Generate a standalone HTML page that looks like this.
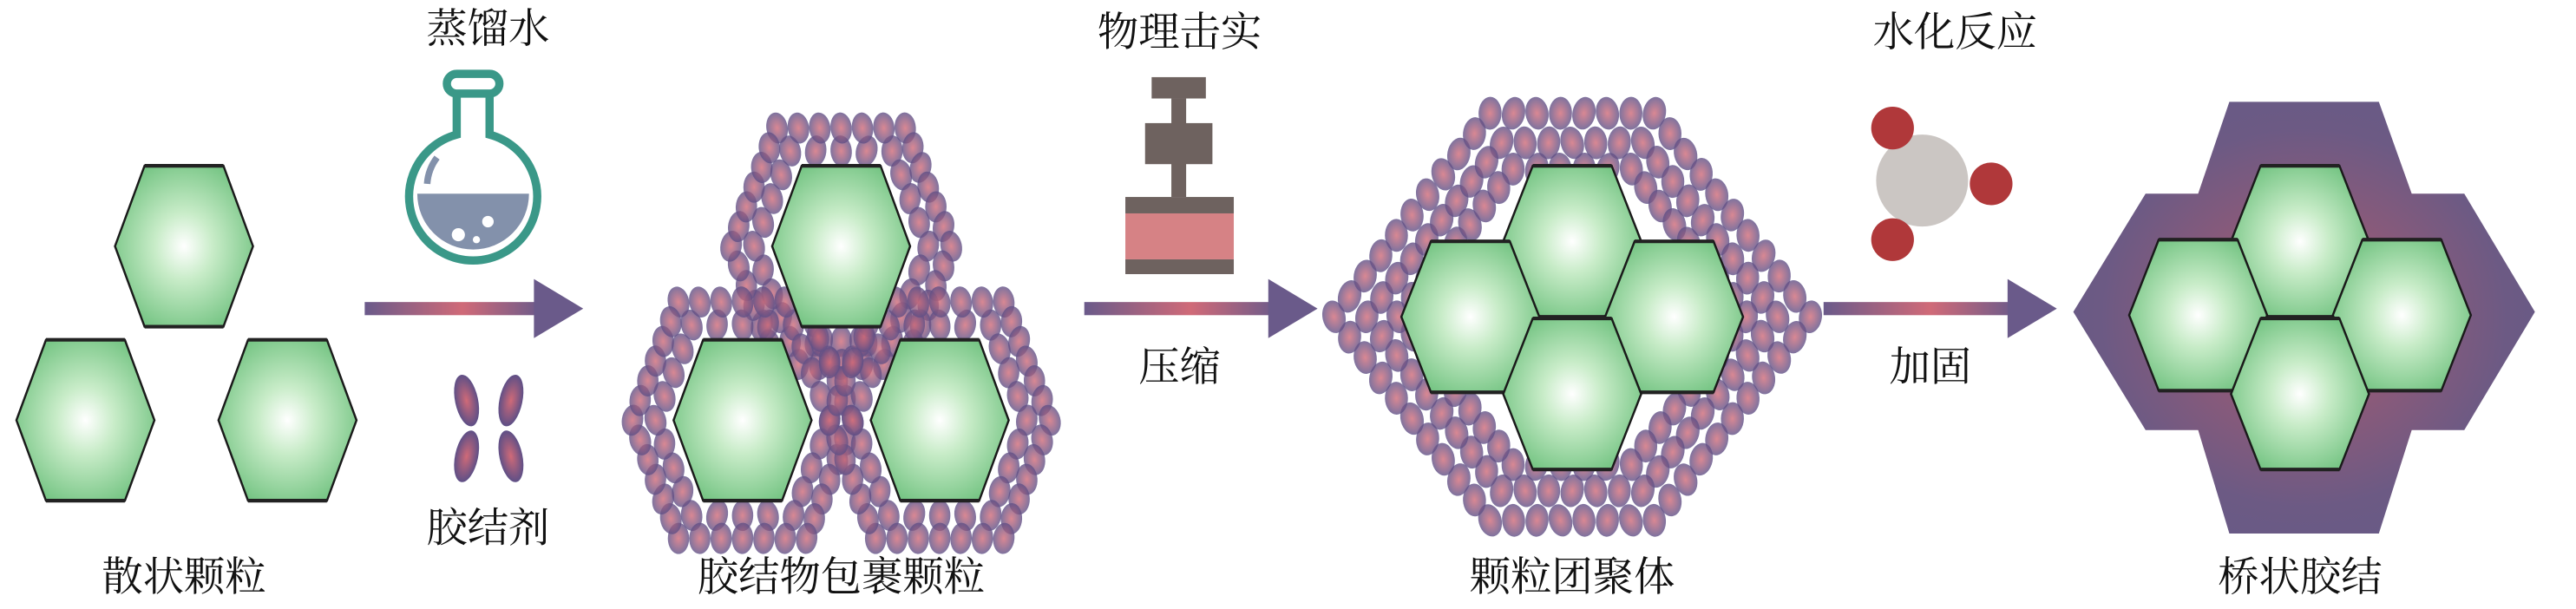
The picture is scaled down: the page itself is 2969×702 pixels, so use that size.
<!DOCTYPE html>
<html><head><meta charset="utf-8"><style>
html,body{margin:0;padding:0;background:#fff;}
svg{display:block;}
text{font-family:"Liberation Serif","Noto Serif CJK SC",serif;font-size:25px;fill:#111;text-anchor:middle;}
</style></head><body>
<svg id="s" width="2969" height="702" viewBox="0 0 1568 371" preserveAspectRatio="none" xmlns="http://www.w3.org/2000/svg">
<defs>
<radialGradient id="hg" cx="50%" cy="50%" r="60%"><stop offset="0" stop-color="#ffffff"/><stop offset="0.35" stop-color="#c8ecc8"/><stop offset="1" stop-color="#6cc07c"/></radialGradient>
<radialGradient id="eg" cx="50%" cy="50%" r="50%"><stop offset="0" stop-color="#d06a78"/><stop offset="1" stop-color="#5e4f86"/></radialGradient>
<radialGradient id="pg" cx="50%" cy="50%" r="55%"><stop offset="0.3" stop-color="#955a76"/><stop offset="0.8" stop-color="#6c5a84"/><stop offset="1" stop-color="#685a86"/></radialGradient>
<linearGradient id="ag" x1="0" x2="1"><stop offset="0" stop-color="#6a5a8a"/><stop offset="0.55" stop-color="#d06a78"/><stop offset="1" stop-color="#6a5a8a"/></linearGradient>
<clipPath id="fc"><circle cx="288" cy="118" r="34"/></clipPath>
<pattern id="dots" width="7" height="7" patternUnits="userSpaceOnUse"><rect width="7" height="7" fill="#6a4a7a"/><circle cx="3.5" cy="3.5" r="3" fill="#a0506a"/></pattern>
</defs>
<g id="g4"><polygon points="1357,62 1448,62 1468,118 1500,118 1543,190 1500,262 1468,262 1448,325 1357,325 1338,262 1306,262 1262,190 1306,118 1338,118" fill="url(#pg)"/></g>
<g id="clouds"></g>
<g id="hexes"></g>
<g>
<rect x="222" y="184" width="108" height="8" fill="url(#ag)"/><polygon points="325,170 355,188 325,206" fill="#6a5a8a"/>
<rect x="660" y="184" width="118" height="8" fill="url(#ag)"/><polygon points="772,170 802,188 772,206" fill="#6a5a8a"/>
<rect x="1110" y="184" width="118" height="8" fill="url(#ag)"/><polygon points="1222,170 1252,188 1222,206" fill="#6a5a8a"/>
</g>
<g>
<g clip-path="url(#fc)"><rect x="250" y="118" width="80" height="40" fill="#8391ab"/></g>
<circle cx="297" cy="135" r="3.5" fill="#fff"/><circle cx="279" cy="143" r="4" fill="#fff"/><circle cx="290" cy="146" r="2.2" fill="#fff"/>
<path d="M278,58 L278,82 A39,39 0 1 0 298,82 L298,58" fill="none" stroke="#3a9888" stroke-width="5"/>
<rect x="272" y="45" width="32" height="12" rx="6" fill="none" stroke="#3a9888" stroke-width="5"/>
<path d="M260,112 A30,30 0 0 1 266,96" fill="none" stroke="#8391ab" stroke-width="4"/>
</g>
<g fill="url(#eg)"><ellipse cx="284" cy="244" rx="7" ry="16" transform="rotate(-12 284 244)"/><ellipse cx="311" cy="244" rx="7" ry="16" transform="rotate(12 311 244)"/><ellipse cx="284" cy="278" rx="7" ry="16" transform="rotate(12 284 278)"/><ellipse cx="311" cy="278" rx="7" ry="16" transform="rotate(-12 311 278)"/></g>
<g fill="#6e625f"><rect x="701" y="47" width="33" height="13"/><rect x="713" y="60" width="9" height="60"/><rect x="697" y="75" width="41" height="25"/><rect x="685" y="120" width="66" height="10"/><rect x="685" y="158" width="66" height="9"/></g>
<rect x="685" y="130" width="66" height="28" fill="#d68285"/>
<circle cx="1170" cy="110" r="28" fill="#cbc6c3"/>
<circle cx="1152" cy="78" r="13" fill="#b0383a"/><circle cx="1212" cy="112" r="13" fill="#b0383a"/><circle cx="1152" cy="146" r="13" fill="#b0383a"/>
<text x="297" y="26">蒸馏水</text>
<text x="297" y="330">胶结剂</text>
<text x="112" y="360">散状颗粒</text>
<text x="512" y="360">胶结物包裹颗粒</text>
<text x="718" y="28">物理击实</text>
<text x="718" y="232">压缩</text>
<text x="957" y="360">颗粒团聚体</text>
<text x="1190" y="28">水化反应</text>
<text x="1175" y="232">加固</text>
<text x="1400" y="360">桥状胶结</text>
</svg>
<script>
var NS="http://www.w3.org/2000/svg";
function el(p,t,a){var e=document.createElementNS(NS,t);for(var k in a)e.setAttribute(k,a[k]);p.appendChild(e);return e;}
var H=document.getElementById('hexes'),C=document.getElementById('clouds');
function hexPts(cx,cy,a,b,c){return [[cx-b,cy-c],[cx+b,cy-c],[cx+a,cy],[cx+b,cy+c],[cx-b,cy+c],[cx-a,cy]];}
function hex(cx,cy,a,b,c){var p=hexPts(cx,cy,a,b,c);el(H,'polygon',{points:p.map(function(q){return q.join(',')}).join(' '),fill:'url(#hg)',stroke:'#1a1a1a','stroke-width':1.3});
el(H,'line',{x1:cx-b,y1:cy-c,x2:cx+b,y2:cy-c,stroke:'#222','stroke-width':2.2});el(H,'line',{x1:cx-b,y1:cy+c,x2:cx+b,y2:cy+c,stroke:'#222','stroke-width':2.2});}
function ring(cx,cy,a,b,c,sp,rx,ry){rx=rx||6.5;ry=ry||9.5;var p=hexPts(cx,cy,a,b,c);for(var i=0;i<6;i++){var s=p[i],e=p[(i+1)%6];var L=Math.hypot(e[0]-s[0],e[1]-s[1]);var n=Math.max(1,Math.round(L/sp));for(var j=0;j<n;j++){var x=s[0]+(e[0]-s[0])*j/n,y=s[1]+(e[1]-s[1])*j/n;var r=((x*7+y*13)%30)-15;el(C,'ellipse',{cx:x,cy:y,rx:rx,ry:ry,fill:'url(#eg)',opacity:0.8,transform:'rotate('+r+' '+x+' '+y+')'});}}}
hex(112,150,42,24,49);hex(52,256,42,24,49);hex(175,256,42,24,49);
[[512,150],[452,256],[572,256]].forEach(function(h){ring(h[0],h[1],53,31,58,14);ring(h[0],h[1],67,39,72,14);});
ring(512,205,14,7,16,12);
hex(512,150,42,24,49);hex(452,256,42,24,49);hex(572,256,42,24,49);
ring(957,193,145,50,124,15,7,10);ring(957,193,125,43,106,15,7,10);ring(957,193,106,36,90,15,7,10);
el(H,'rect',{x:935,y:176,width:44,height:34,fill:'url(#dots)'});
el(H,'rect',{x:1378,y:176,width:44,height:34,fill:'url(#dots)'});
hex(957,147,42,24,46);hex(895,193,42,24,46);hex(1019,193,42,24,46);hex(957,240,42,24,46);
hex(1400,147,42,24,46);hex(1338,192,42,24,46);hex(1462,192,42,24,46);hex(1400,240,42,24,46);
</script>
</body></html>
